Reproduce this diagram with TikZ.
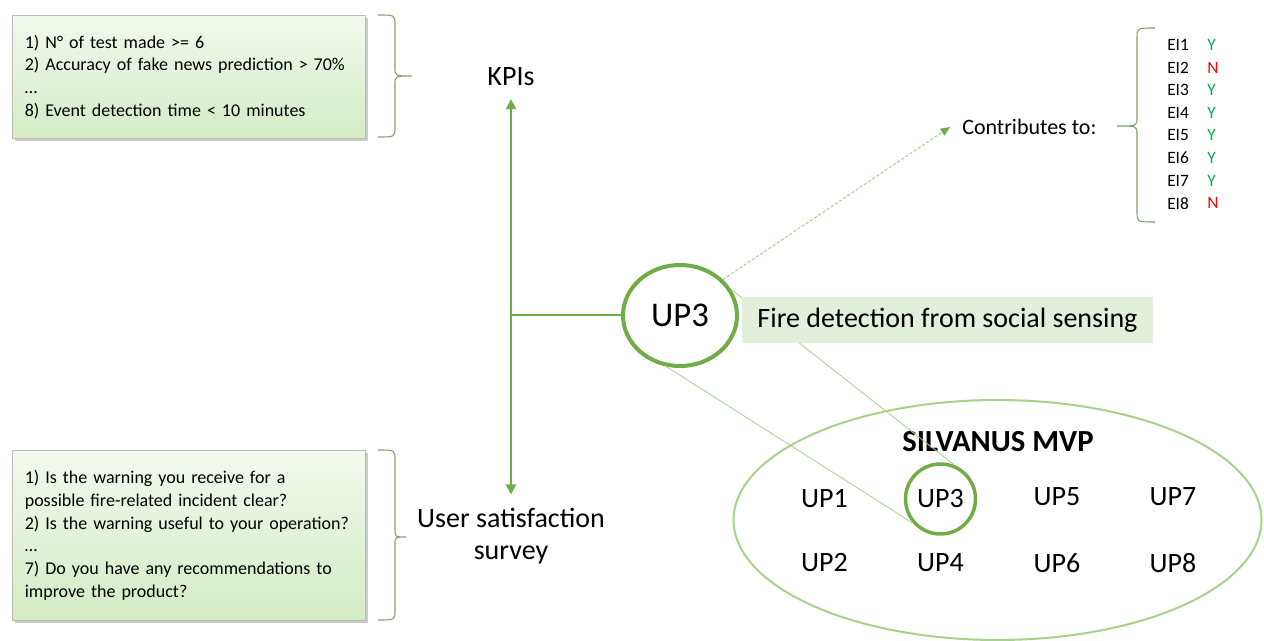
\documentclass[tikz,border=0pt]{standalone}
\usepackage{fontspec}
\setmainfont{Carlito}
\usetikzlibrary{arrows.meta,shapes.geometric,shadows}
\hyphenpenalty=10000

\definecolor{upgreen}{RGB}{112,173,71}
\definecolor{palegreen}{RGB}{169,209,142}
\definecolor{bracegreen}{RGB}{128,160,104}
\definecolor{labelfill}{RGB}{226,239,218}
\definecolor{boxtop}{RGB}{242,249,238}
\definecolor{boxbottom}{RGB}{212,236,196}
\definecolor{yesgreen}{RGB}{0,176,80}
\definecolor{nored}{RGB}{255,0,0}

\begin{document}
\begin{tikzpicture}[x=0.75pt,y=-0.75pt,
		listbox/.style={draw=gray!55, top color=boxtop, bottom color=boxbottom,
			drop shadow={opacity=0.4,shadow xshift=1.8pt,shadow yshift=-1.8pt},
			anchor=north west, text width=246pt, inner xsep=9.4pt, align=left,
			font=\fontsize{13.5}{17}\selectfont},
		curly/.style={draw=bracegreen, line width=0.8pt},
		bigword/.style={font=\fontsize{21}{24}\selectfont, inner xsep=0pt, inner ysep=10pt},
		upname/.style={font=\fontsize{21}{25}\selectfont, inner sep=0pt},
		einame/.style={font=\fontsize{13}{16}\selectfont, anchor=west, inner sep=0pt},
		zoomline/.style={palegreen, line width=0.6pt}]
		\path[fill=white,use as bounding box] (0,0) rectangle (1264,641);
		
		%kpi box
		\node[listbox, minimum height=92.25pt] (kpibox) at (12,15) {1) N° of test made >= 6\\
			2) Accuracy of fake news prediction > 70\%\\
			…\\
			8) Event detection time < 10 minutes};
		\draw[curly] (378,15) .. controls (395,15) .. (395,25) -- (395,68) .. controls (395,76) .. (412,76)
			.. controls (395,76) .. (395,84) -- (395,127) .. controls (395,137) .. (378,137);
		
		%survey box
		\node[listbox, minimum height=127.5pt] (surveybox) at (12,450) {1) Is the warning you receive for a\\
			possible fire-related incident clear?\\
			2) Is the warning useful to your operation?\\
			…\\
			7) Do you have any recommendations to\\
			improve the product?};
		\draw[curly] (378,450) .. controls (395,450) .. (395,460) -- (395,529) .. controls (395,537) .. (406,537)
			.. controls (395,537) .. (395,545) -- (395,610) .. controls (395,620) .. (378,620);
		
		%kpis and survey
		\node[bigword] (kpi) at (511,76.5) {KPIs};
		\node[bigword, align=center] (survey) at (511,536) {User satisfaction\\survey};
		\draw[upgreen, line width=1.5pt, {Triangle[length=7.5pt,width=7.5pt]}-{Triangle[length=7.5pt,width=7.5pt]}] (kpi) -- (survey);
		
		%mvp
		\node[ellipse, draw=palegreen, line width=1.5pt, minimum width=396pt, minimum height=180pt] (mvpring) at (997.5,520) {};
		\node[font=\bfseries\fontsize{23}{27}\selectfont, inner sep=0pt] (mvptitle) at (998,442) {SILVANUS MVP};
		\node[upname] (mvp1) at (824.5,499) {UP1};
		\node[upname] (mvp2) at (824.5,563) {UP2};
		\node[upname] (mvp4) at (940.5,563) {UP4};
		\node[upname] (mvp5) at (1057,497) {UP5};
		\node[upname] (mvp6) at (1057,563) {UP6};
		\node[upname] (mvp7) at (1173,497) {UP7};
		\node[upname] (mvp8) at (1173,563) {UP8};
		\node[upname, circle, draw=upgreen, line width=2.6pt, minimum size=52.5pt] (selup) at (940.5,499) {UP3};
		
		%up3
		\node[ellipse, draw=upgreen, line width=3pt, fill=white, minimum width=85.5pt, minimum height=75.75pt, inner sep=0pt,
			font=\fontsize{26}{30}\selectfont] (bigup) at (680,315.5) {UP3};
		\draw[upgreen, line width=1.5pt] (kpi.south |- bigup.west) -- (bigup.west);
		\draw[zoomline] (bigup.255) -- (selup.221);
		\draw[zoomline] (bigup.27) -- (selup.68);
		\node[fill=labelfill, minimum width=308.25pt, minimum height=34.5pt, inner sep=0pt,
			font=\fontsize{21}{25}\selectfont] (firelabel) at (947.5,320) {Fire detection from social sensing};
		
		%contributes
		\node[anchor=west, inner xsep=9pt, inner ysep=0pt, font=\fontsize{16.5}{19}\selectfont] (contrib) at (950,127) {Contributes to:};
		\draw[palegreen, line width=0.75pt, dash pattern=on 2.25pt off 1.5pt, -{Triangle[length=7pt,width=6pt,color=upgreen]}] (bigup.40) -- (contrib.west);
		\draw[curly] (1155,28) .. controls (1137,28) .. (1137,38) -- (1137,118) .. controls (1137,126) .. (1117,126)
			.. controls (1137,126) .. (1137,134) -- (1137,212) .. controls (1137,222) .. (1155,222);
		
		%indicators
		\node[einame] (ei1) at (1167,45) {EI1};
		\node[einame] (ei2) at (1167,67.6) {EI2};
		\node[einame] (ei3) at (1167,90.2) {EI3};
		\node[einame] (ei4) at (1167,112.8) {EI4};
		\node[einame] (ei5) at (1167,135.4) {EI5};
		\node[einame] (ei6) at (1167,158) {EI6};
		\node[einame] (ei7) at (1167,180.6) {EI7};
		\node[einame] (ei8) at (1167,203.2) {EI8};
		\node[einame, text=yesgreen] (yn1) at (1207,45) {Y};
		\node[einame, text=nored] (yn2) at (1207,67.6) {N};
		\node[einame, text=yesgreen] (yn3) at (1207,90.2) {Y};
		\node[einame, text=yesgreen] (yn4) at (1207,112.8) {Y};
		\node[einame, text=yesgreen] (yn5) at (1207,135.4) {Y};
		\node[einame, text=yesgreen] (yn6) at (1207,158) {Y};
		\node[einame, text=yesgreen] (yn7) at (1207,180.6) {Y};
		\node[einame, text=nored] (yn8) at (1207,203.2) {N};
	\end{tikzpicture}
\end{document}
